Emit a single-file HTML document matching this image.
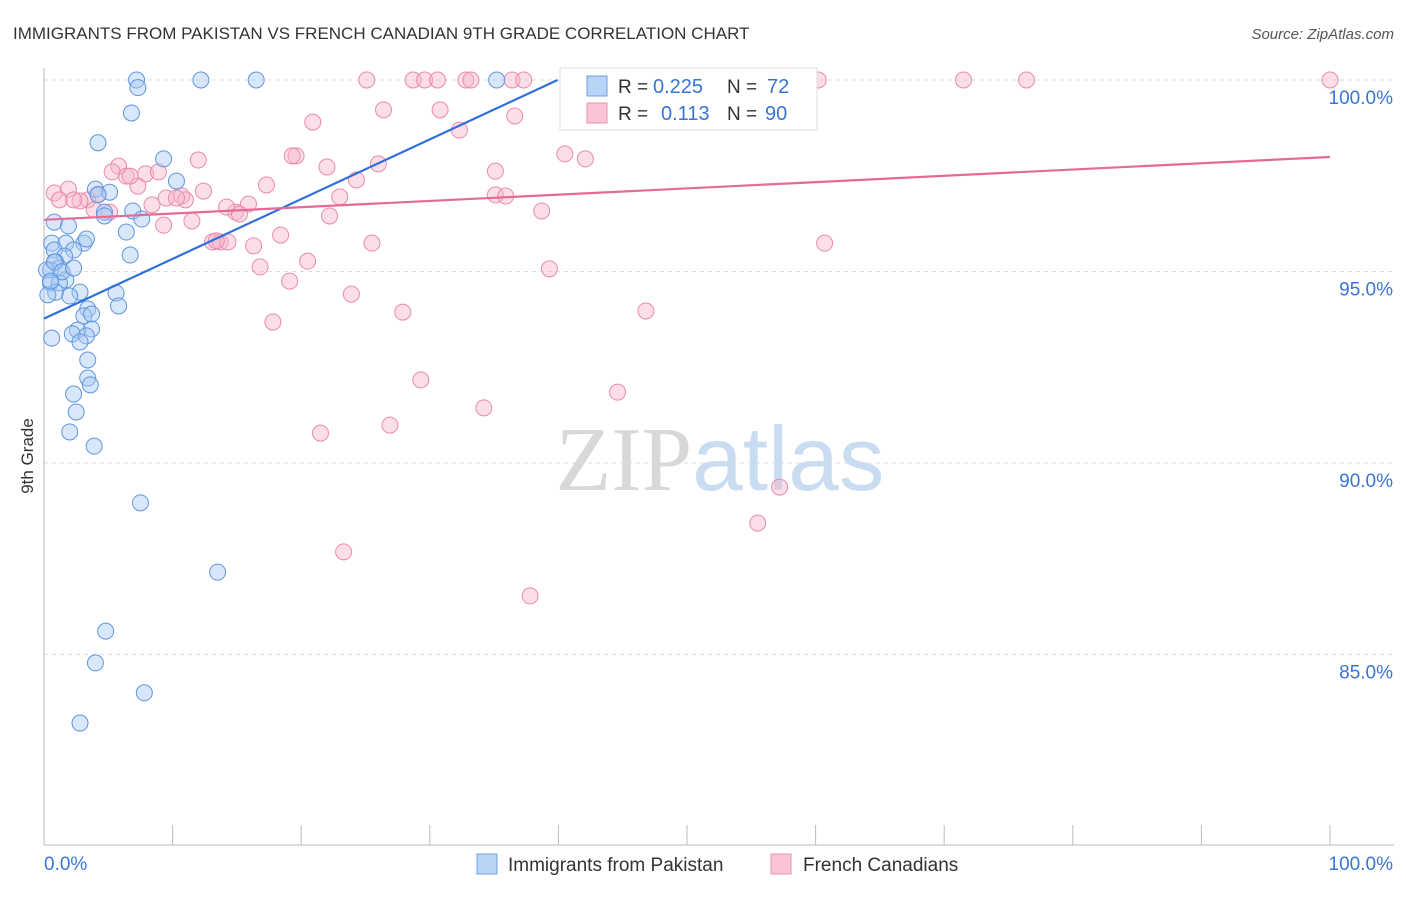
<!DOCTYPE html>
<html><head><meta charset="utf-8">
<style>
body{margin:0;background:#fff;font-family:"Liberation Sans",sans-serif;}
svg text{font-family:"Liberation Sans",sans-serif;}
</style></head>
<body>
<svg id="chart" width="1406" height="892" xmlns="http://www.w3.org/2000/svg">
<text x="13" y="39" font-size="17" fill="#333">IMMIGRANTS FROM PAKISTAN VS FRENCH CANADIAN 9TH GRADE CORRELATION CHART</text>
<text x="1394" y="39" font-size="15" fill="#555" text-anchor="end" font-style="italic">Source: ZipAtlas.com</text>
<text x="720" y="490" font-size="91" text-anchor="middle"><tspan font-family="Liberation Serif" fill="#d8d8d8">ZIP</tspan><tspan fill="#c9dcf2">atlas</tspan></text>
<g id="grid"></g>
<g id="axes"></g>
<g id="pts"></g>
<g id="trends"></g>
<text transform="translate(33,456) rotate(-90)" font-size="17" fill="#333" text-anchor="middle">9th Grade</text>
<g>
<rect x="560" y="68" width="257" height="62" fill="#fff" stroke="#ddd"/>
<rect x="587" y="76" width="20" height="20" fill="#b7d3f5" stroke="#6f9fe0"/>
<rect x="587" y="103" width="20" height="20" fill="#f9c5d5" stroke="#ec8fae"/>
<text x="618" y="93" font-size="19" fill="#333">R =</text>
<text x="653" y="93" font-size="20" fill="#3a74d8">0.225</text>
<text x="727" y="93" font-size="19" fill="#333">N =</text>
<text x="767" y="93" font-size="20" fill="#3a74d8">72</text>
<text x="618" y="120" font-size="19" fill="#333">R =</text>
<text x="661" y="120" font-size="20" fill="#3a74d8">0.113</text>
<text x="727" y="120" font-size="19" fill="#333">N =</text>
<text x="765" y="120" font-size="20" fill="#3a74d8">90</text>
</g>
<g>
<rect x="477" y="854" width="20" height="20" fill="#b7d3f5" stroke="#6f9fe0"/>
<text x="508" y="871" font-size="19" fill="#333">Immigrants from Pakistan</text>
<rect x="771" y="854" width="20" height="20" fill="#f9c5d5" stroke="#ec8fae"/>
<text x="803" y="871" font-size="19" fill="#333">French Canadians</text>
</g>
</svg>
<script>
const blueX=[7.2,7.3,12.2,16.5,35.2,6.8,4.2,9.3,10.3,4.0,5.1,4.2,0.8,1.9,4.7,6.9,4.7,7.6,6.4,0.6,1.7,3.1,0.8,2.3,3.3,1.6,6.7,0.9,1.2,0.5,0.2,1.7,0.5,1.2,0.9,2.8,0.3,2.0,5.6,5.8,3.4,3.1,3.7,3.7,2.6,2.2,3.3,0.6,2.8,3.4,3.4,3.6,2.3,2.5,2.0,3.9,7.5,13.5,4.8,4.0,7.8,2.8,0.8,1.4,2.3,0.5];
const blueY=[100,99.8,100,100,100,99.14,98.36,97.94,97.36,97.15,97.07,97.0,96.29,96.19,96.55,96.58,96.45,96.37,96.03,95.74,95.74,95.74,95.56,95.56,95.85,95.40,95.43,95.25,95.09,95.04,95.04,94.78,94.70,94.70,94.46,94.46,94.39,94.36,94.44,94.10,94.02,93.84,93.89,93.50,93.47,93.37,93.32,93.26,93.16,92.69,92.22,92.04,91.80,91.33,90.81,90.44,88.96,87.15,85.61,84.78,84.0,83.21,95.25,94.99,95.09,94.75];
const pinkX=[25.1,28.7,29.6,30.6,32.8,33.2,36.4,37.3,47.6,60.2,71.5,76.4,100,26.4,30.8,20.9,36.6,32.3,40.5,42.1,19.6,19.3,12.0,22.0,26.0,35.1,5.8,5.3,6.4,7.9,8.9,17.3,24.3,7.3,12.4,0.8,1.9,4.2,10.7,23.0,35.1,35.9,1.2,3.4,2.8,2.3,8.4,11.0,15.9,3.9,14.9,15.2,22.2,9.3,38.7,11.5,13.1,13.7,14.3,18.4,16.3,25.5,60.7,20.5,16.8,39.3,19.1,23.9,27.9,46.8,17.8,29.3,44.6,34.2,21.5,26.9,57.2,55.5,23.3,37.8,13.4,5.1,6.7,9.5,10.3,14.2];
const pinkY=[100,100,100,100,100,100,100,100,100,100,100,100,100,99.22,99.22,98.90,99.06,98.69,98.07,97.94,98.02,98.02,97.91,97.73,97.81,97.62,97.75,97.60,97.49,97.55,97.60,97.26,97.39,97.23,97.10,97.05,97.15,97.02,96.97,96.95,97.0,96.97,96.87,96.87,96.84,96.87,96.74,96.87,96.76,96.61,96.55,96.50,96.45,96.21,96.58,96.32,95.77,95.77,95.77,95.95,95.67,95.74,95.74,95.27,95.12,95.07,94.75,94.41,93.94,93.97,93.68,92.17,91.85,91.44,90.78,90.99,89.37,88.43,87.68,86.53,95.80,96.55,97.49,96.92,96.92,96.68];
const blueTrend=[93.77,0.156];
const pinkTrend=[96.35,0.0164];
const yTicks=[100,95,90,85];
const yTickLabels=["100.0%","95.0%","90.0%","85.0%"];
const xTicks=[0,10,20,30,40,50,60,70,80,90,100];

const NS="http://www.w3.org/2000/svg";
const X0=44,X1=1330,Y100=80,PXPER=38.3;
function sx(v){return X0+(X1-X0)*v/100;}
function sy(v){return Y100+(100-v)*PXPER;}
function mk(tag,attrs,parent){const e=document.createElementNS(NS,tag);for(const k in attrs)e.setAttribute(k,attrs[k]);parent.appendChild(e);return e;}
const grid=document.getElementById('grid'),axes=document.getElementById('axes'),pts=document.getElementById('pts'),tr=document.getElementById('trends');
yTicks.forEach((t,i)=>{
  const l=mk('line',{x1:X0,x2:1394,y1:sy(t),y2:sy(t),stroke:'#ddd','stroke-dasharray':'4,4'},grid);
  
  
  const tx=mk('text',{x:1393,y:sy(t)+24,'font-size':19,fill:'#3a74d8','text-anchor':'end'},axes);
  tx.textContent=yTickLabels[i];
  
  
});
const ya=mk('line',{x1:X0,x2:X0,y1:68,y2:845,stroke:'#bbb'},axes);


const xa=mk('line',{x1:X0,x2:1394,y1:845,y2:845,stroke:'#bbb'},axes);


xTicks.forEach(t=>{
  const l=mk('line',{x1:sx(t),x2:sx(t),y1:825,y2:845,stroke:'#bbb'},axes);
  
  
});
const xl0=mk('text',{x:44,y:870,'font-size':19,fill:'#3a74d8'},axes);xl0.textContent='0.0%';


const xl1=mk('text',{x:1393,y:870,'font-size':19,fill:'#3a74d8','text-anchor':'end'},axes);xl1.textContent='100.0%';


function drawPts(xs,ys,fill,stroke,name){
  xs.forEach((x,i)=>{
    const c=mk('circle',{cx:sx(x),cy:sy(ys[i]),r:8,fill:fill,stroke:stroke,'stroke-width':1,'fill-opacity':0.45},pts);
    
    
  });
}
drawPts(pinkX,pinkY,'#f7b6cb','#ea8aab','point-french-canadian');
drawPts(blueX,blueY,'#a9c9f2','#5f95df','point-pakistan');
const bxEnd=Math.min(100,(100-blueTrend[0])/blueTrend[1]);
const bl=mk('line',{x1:sx(0),y1:sy(blueTrend[0]),x2:sx(bxEnd),y2:sy(blueTrend[0]+blueTrend[1]*bxEnd),stroke:'#2e6fd8','stroke-width':2.2},tr);


const pl=mk('line',{x1:sx(0),y1:sy(pinkTrend[0]),x2:sx(100),y2:sy(pinkTrend[0]+pinkTrend[1]*100),stroke:'#e56a98','stroke-width':2.2},tr);


</script>
</body></html>
